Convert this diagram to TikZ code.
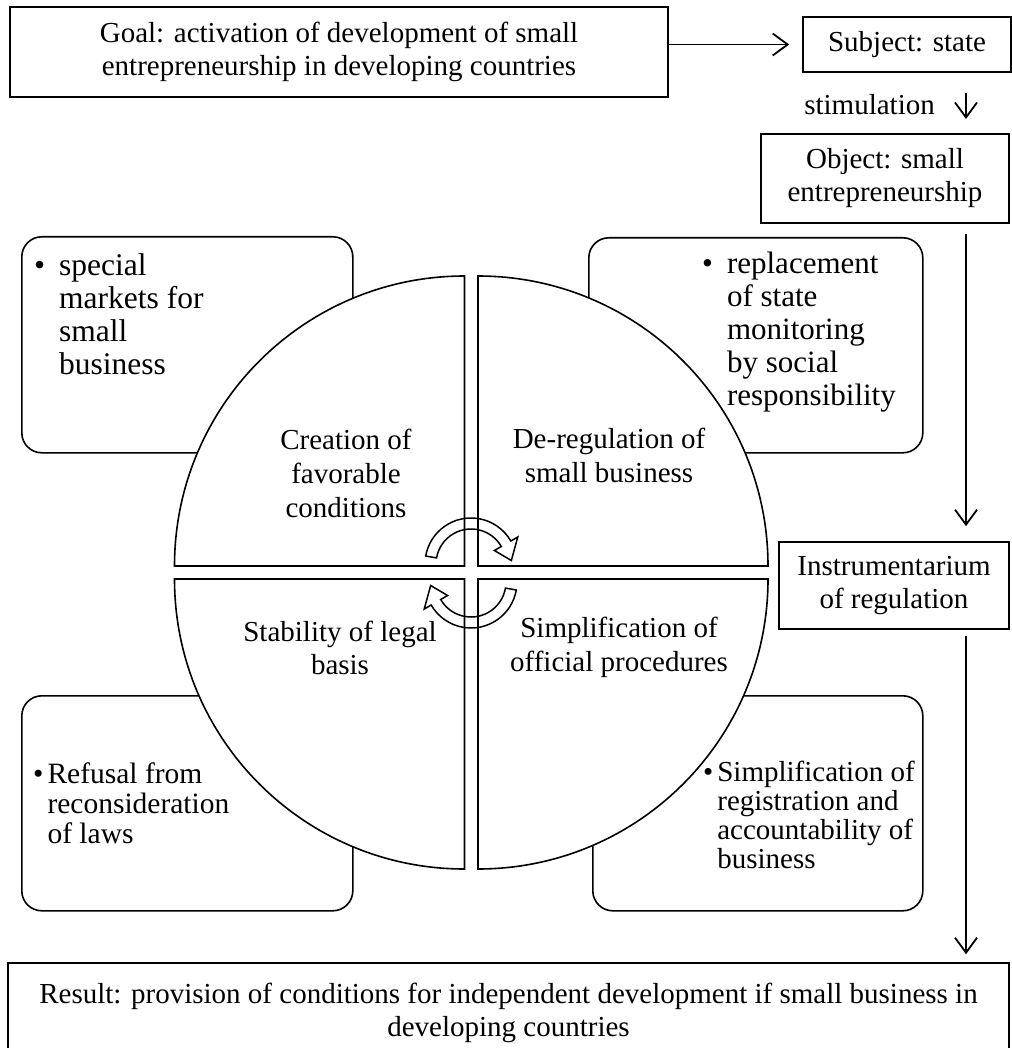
\documentclass[tikz,border=0pt]{standalone}
\usepackage{fontspec}
\setmainfont{Liberation Serif}
\usetikzlibrary{arrows.meta}
\begin{document}
\begin{tikzpicture}[x=1pt,y=1pt,
  every node/.style={font=\fontsize{29}{33}\selectfont, inner sep=0pt},
  plainbox/.style={draw, line width=1.6pt, fill=white, align=center},
  roundbox/.style={draw, line width=1.6pt, fill=white, rounded corners=20pt, anchor=north west},
  quarter/.style={draw, line width=1.6pt, fill=white},
  label/.style={align=center, font=\fontsize{29}{34}\selectfont},
  bullets/.style={anchor=base west},
  conn/.style={line width=1.8pt, -{Straight Barb[length=15pt,width=22pt,line width=1.8pt]}},
  cycarrow/.style={draw, line width=1.5pt, line join=miter},
]
\useasboundingbox (0,0) rectangle (1011,-1048);

% flow boxes along the top and right
\node[plainbox, minimum width=658, minimum height=90] (goal) at (339,-52)
  {Goal: activation of development of small\\entrepreneurship in developing countries};
\node[plainbox, minimum width=208, minimum height=55] (subject) at (907,-44.5) {Subject: state};
\node[plainbox, minimum width=248, minimum height=89] (object) at (885,-178.5)
  {Object: small\\entrepreneurship};
\node[plainbox, minimum width=230, minimum height=87] (instr) at (894,-585.5)
  {Instrumentarium\\of regulation};
\node[plainbox, minimum width=1001, minimum height=100] (result) at (508.5,-1013)
  {Result: provision of conditions for independent development if small business in\\developing countries};

% connectors
\coordinate (rail) at (966,0);
\coordinate (stimtop) at (966,-93);
\coordinate (stimend) at (966,-119);
\draw[conn, shorten >=13pt] (goal.east |- subject.west) -- (subject.west);
\draw[conn] (stimtop) -- (stimend);
\node[anchor=east] (stim) at (935,-105) {stimulation};
\draw[conn, shorten <=10pt, shorten >=15pt] (object.south -| rail) -- (instr.north -| rail);
\draw[conn, shorten <=6pt, shorten >=8pt] (instr.south -| rail) -- (result.north -| rail);

% rounded boxes behind the circle
\node[roundbox, minimum width=331, minimum height=216] (tlbox) at (21,-236) {};
\node[roundbox, minimum width=334, minimum height=215] (trbox) at (588,-237) {};
\node[roundbox, minimum width=331, minimum height=215] (blbox) at (21,-695) {};
\node[roundbox, minimum width=330, minimum height=215] (brbox) at (592,-695) {};

% four quarters of the circle
\draw[quarter] (464.5,-566) -- (174.5,-566) arc[start angle=180, end angle=90, radius=290] -- cycle;
\draw[quarter] (478,-566) -- (478,-276) arc[start angle=90, end angle=0, radius=290] -- cycle;
\draw[quarter] (464.5,-579) -- (174.5,-579) arc[start angle=180, end angle=270, radius=290] -- cycle;
\draw[quarter] (478,-579) -- (768,-579) arc[start angle=0, end angle=-90, radius=290] -- cycle;

% circular block arrows in the middle
\begin{scope}[shift={(471,-564)}]
  \draw[cycarrow] (170:46) arc[start angle=170, end angle=30, radius=46]
    -- (30:54) -- (5:40.5) -- (30:27) -- (30:35)
    arc[start angle=30, end angle=170, radius=35] -- cycle;
\end{scope}
\begin{scope}[shift={(471,-582)}]
  \draw[cycarrow] (-10:46) arc[start angle=-10, end angle=-150, radius=46]
    -- (-150:54) -- (-175:40.5) -- (-150:27) -- (-150:35)
    arc[start angle=-150, end angle=-10, radius=35] -- cycle;
\end{scope}

% quarter labels
\node[label] (creation) at (346,-473.4) {Creation of\\favorable\\conditions};
\node[label] (dereg) at (609,-455.8) {De-regulation of\\small business};
\node[label, font=\fontsize{29}{32.5}\selectfont] (stability) at (340,-648) {Stability of legal\\basis};
\node[label] (simpl) at (619,-646.9) {Simplification of\\official procedures};

% bullet texts
\node[bullets, font=\fontsize{31.5}{33}\selectfont] (tltext) at (34,-275.5)
  {\begin{tabular}[t]{@{}l@{\hspace{14pt}}l@{}}\textbullet & special\\ & markets for\\ & small\\ & business\end{tabular}};
\node[bullets, font=\fontsize{31}{33}\selectfont] (trtext) at (702,-273.5)
  {\begin{tabular}[t]{@{}l@{\hspace{14pt}}l@{}}\textbullet & replacement\\ & of state\\ & monitoring\\ & by social\\ & responsibility\end{tabular}};
\node[bullets, font=\fontsize{29.5}{30}\selectfont] (bltext) at (33,-783.5)
  {\begin{tabular}[t]{@{}l@{\hspace{4pt}}l@{}}\textbullet & Refusal from\\ & reconsideration\\ & of laws\end{tabular}};
\node[bullets, font=\fontsize{29}{29}\selectfont] (brtext) at (703,-781.5)
  {\begin{tabular}[t]{@{}l@{\hspace{4pt}}l@{}}\textbullet & Simplification of\\ & registration and\\ & accountability of\\ & business\end{tabular}};
\end{tikzpicture}
\end{document}
